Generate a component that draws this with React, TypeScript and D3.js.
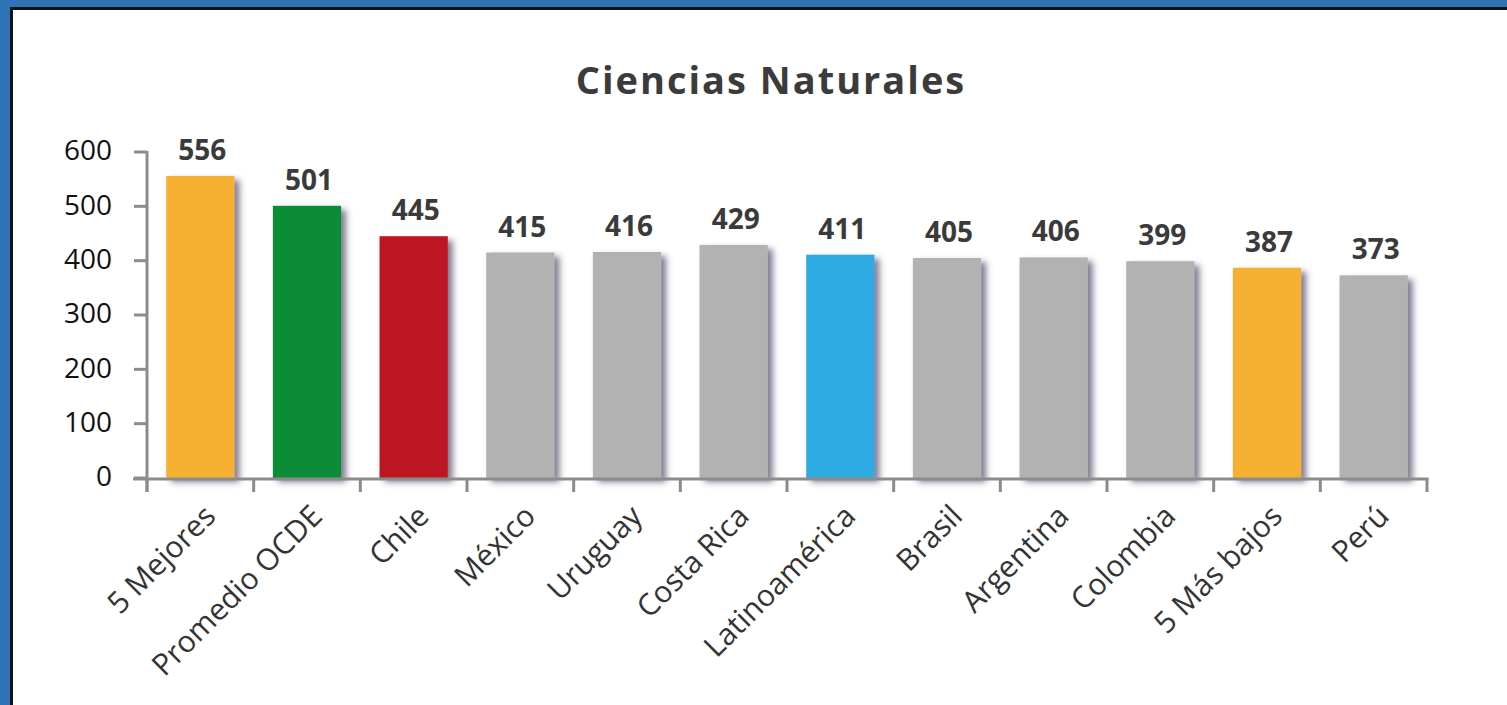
import React, {useEffect, useRef} from 'react';
import * as d3 from 'd3';

const categories = ['5 Mejores', 'Promedio OCDE', 'Chile', 'México', 'Uruguay', 'Costa Rica',
    'Latinoamérica', 'Brasil', 'Argentina', 'Colombia', '5 Más bajos', 'Perú'];
const scores = [556, 501, 445, 415, 416, 429, 411, 405, 406, 399, 387, 373];
const barColors = ['#F7B133', '#0F8C38', '#BD1622', '#B2B2B2', '#B2B2B2', '#B2B2B2',
    '#2DABE2', '#B2B2B2', '#B2B2B2', '#B2B2B2', '#F7B133', '#B2B2B2'];
const yTicks = [0, 100, 200, 300, 400, 500, 600];
const title = 'Ciencias Naturales';

const W = 1507, H = 705;
const FONT = '"Open Sans", "DejaVu Sans", sans-serif';

export default function App() {
    const container = useRef<SVGSVGElement>(null);

    useEffect(() => {
        const svg = d3.select(container.current);
        svg.selectAll('*').remove();

        const margin = {left: 147, right: 80, top: 152, bottom: 227};
        const width = W - margin.left - margin.right,
            height = H - margin.top - margin.bottom;

        addFrame({svg});
        addShadowFilter({svg});

        const xScale = d3.scaleBand().domain(categories).range([0, width]).paddingInner(0.36).paddingOuter(0.18);
        const yScale = d3.scaleLinear().domain([0, 600]).range([height, 0]);

        const chart = svg.append('g').attr('transform', `translate(${margin.left},${margin.top})`);

        svg.append('text')
            .attr('x', 771)
            .attr('y', 94)
            .attr('text-anchor', 'middle')
            .style('font', `bold 38px ${FONT}`)
            .style('letter-spacing', '2px')
            .attr('fill', '#3B3B3B')
            .text(title);

        addBars({chart, xScale, yScale});
        addAxes({chart, xScale, yScale, width, height});
    }, []);

    return (
        <svg ref={container} width={W} height={H}
             style={{position: 'absolute', left: 0, top: 0, background: '#fff'}}/>
    );
}

function addFrame({svg}) {
    svg.append('rect').attr('x', 0).attr('y', 0).attr('width', W).attr('height', H).attr('fill', '#fff');
    svg.append('rect').attr('x', 0).attr('y', 0).attr('width', W).attr('height', 8).attr('fill', '#2E74B5');
    svg.append('rect').attr('x', 0).attr('y', 0).attr('width', 10).attr('height', H).attr('fill', '#2E74B5');
    svg.append('rect').attr('x', 10).attr('y', 7).attr('width', W - 10).attr('height', 3).attr('fill', '#111');
    svg.append('rect').attr('x', 10).attr('y', 7).attr('width', 3).attr('height', H - 7).attr('fill', '#111');
}

function addShadowFilter({svg}) {
    const filter = svg.append('defs').append('filter')
        .attr('id', 'bar-shadow')
        .attr('x', '-20%').attr('y', '-10%')
        .attr('width', '150%').attr('height', '130%');
    filter.append('feDropShadow')
        .attr('dx', 5)
        .attr('dy', 4)
        .attr('stdDeviation', 3)
        .attr('flood-color', '#3E3558')
        .attr('flood-opacity', 0.65);
}

function addBars({chart, xScale, yScale}) {
    const data = categories.map((name, i) => ({name, value: scores[i], color: barColors[i]}));

    chart.selectAll('.bar')
        .data(data)
        .enter().append('rect')
        .attr('class', 'bar')
        .attr('x', d => xScale(d.name))
        .attr('y', d => yScale(d.value))
        .attr('width', xScale.bandwidth())
        .attr('height', d => yScale(0) - yScale(d.value))
        .attr('fill', d => d.color)
        .attr('filter', 'url(#bar-shadow)');

    chart.selectAll('.value-label')
        .data(data)
        .enter().append('text')
        .attr('class', 'value-label')
        .attr('x', d => xScale(d.name) + xScale.bandwidth() / 2 + 2)
        .attr('y', d => yScale(d.value) - 16)
        .attr('text-anchor', 'middle')
        .style('font', `bold 28px ${FONT}`)
        .attr('fill', '#3A3A3A')
        .text(d => d.value);
}

function addAxes({chart, xScale, yScale, width, height}) {
    const axisColor = '#8C8C8C';
    const step = xScale.step();

    // y axis line + ticks
    chart.append('line')
        .attr('x1', 0).attr('x2', 0)
        .attr('y1', yScale(600) - 1).attr('y2', height + 14)
        .attr('stroke', axisColor).attr('stroke-width', 3);

    const yTick = chart.selectAll('.y-tick')
        .data(yTicks)
        .enter().append('g')
        .attr('class', 'y-tick')
        .attr('transform', d => `translate(0,${yScale(d)})`);
    yTick.append('line')
        .attr('x1', -13).attr('x2', 0)
        .attr('stroke', axisColor).attr('stroke-width', 3);
    yTick.append('text')
        .attr('x', -35)
        .attr('dy', '0.3em')
        .attr('text-anchor', 'end')
        .style('font', `28px ${FONT}`)
        .attr('fill', '#111')
        .text(d => d);

    // x axis line + band boundary ticks
    chart.append('line')
        .attr('x1', -14).attr('x2', width + 1.5)
        .attr('y1', height + 1).attr('y2', height + 1)
        .attr('stroke', axisColor).attr('stroke-width', 3);

    chart.selectAll('.x-tick')
        .data(d3.range(categories.length + 1))
        .enter().append('line')
        .attr('class', 'x-tick')
        .attr('x1', i => i * step).attr('x2', i => i * step)
        .attr('y1', height).attr('y2', height + 14)
        .attr('stroke', axisColor).attr('stroke-width', 3);

    chart.selectAll('.x-label')
        .data(categories)
        .enter().append('text')
        .attr('class', 'x-label')
        .attr('transform', d => `translate(${xScale(d) + xScale.bandwidth() / 2 + 17},${height + 40}) rotate(-45)`)
        .attr('text-anchor', 'end')
        .style('font', `30px ${FONT}`)
        .attr('fill', '#333')
        .text(d => d);
}
